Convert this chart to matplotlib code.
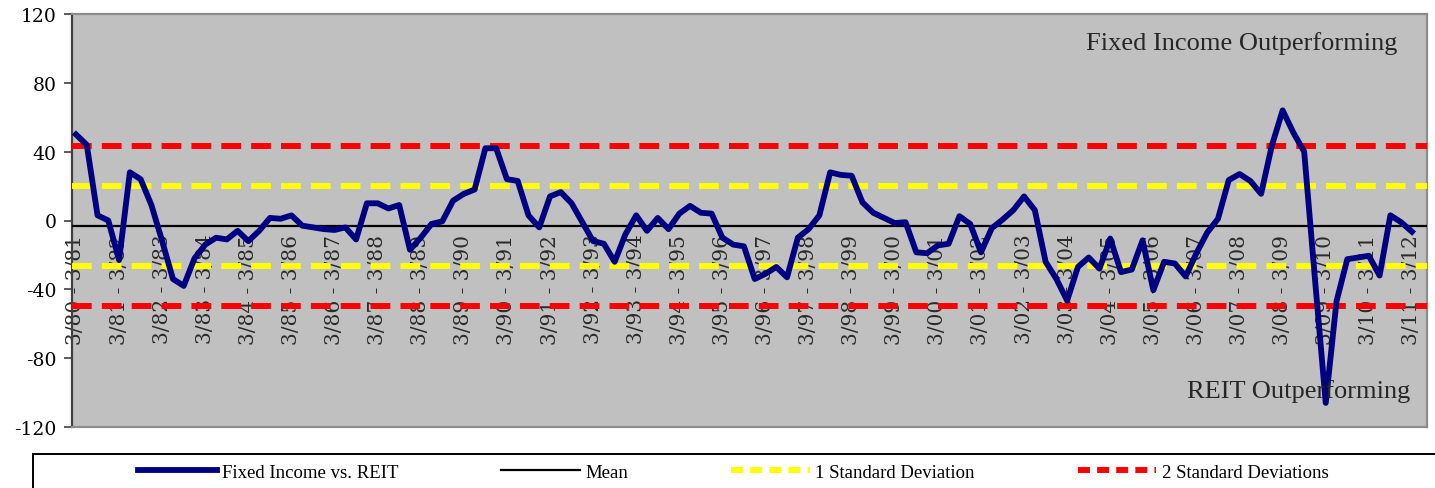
import matplotlib
matplotlib.use("Agg")
import matplotlib.pyplot as plt
from matplotlib.lines import Line2D
from matplotlib.patches import Rectangle

plt.rcParams["axes.unicode_minus"] = False

# rolling spread, quarterly points from 3/81 to 3/12
spread = [50, 44, 3, 0, -23, 28, 24, 9, -12, -34,
          -38, -22, -14, -10, -11, -6, -12, -6, 1.5, 1,
          3, -3, -4, -5, -5.5, -4, -11, 10, 10, 7,
          9, -17, -10, -2, -0.5, 11.5, 15.5, 18, 42, 42,
          24, 23, 3, -4, 14, 16.5, 10, -1, -12, -13.5,
          -24, -8, 3, -6, 1.5, -5, 4, 8.5, 4.5, 4,
          -10, -14, -15, -34, -31, -27, -33, -10, -5, 3,
          28, 26.5, 26, 10.5, 4.5, 1.5, -1.5, -1, -18.5, -19,
          -14.5, -13.5, 2.5, -2, -18.5, -4.5, 0.5, 6, 14, 6,
          -24, -34, -46.5, -27, -21.5, -28, -10.5, -30, -28.5, -11.5,
          -40.5, -24, -25, -32.5, -19, -7, 1, 23.5, 27, 23,
          15.5, 43.5, 64, 51, 40, -34, -106, -47, -22.5, -21.5,
          -20.5, -32, 3, -1, -6.5]

mean_level = -3.1
one_sd = [20.1, -26.3]
two_sd = [43.3, -49.5]

years = list(range(80, 112))
period_labels = ["3/%02d - 3/%02d" % (y % 100, (y + 1) % 100) for y in years]

fig = plt.figure(figsize=(14.35, 4.89), dpi=100)
ax = fig.add_axes([72 / 1435, 1 - 428 / 489, 1355 / 1435, 413 / 489])
ax.set_facecolor("#c0c0c0")

x = list(range(len(spread)))
ax.plot(x, spread, color="#000080", lw=4.2, zorder=5)
ax.axhline(mean_level, color="black", lw=1.6, zorder=3)
for lvl in one_sd:
    ax.axhline(lvl, color="#ffff00", lw=4.3, dashes=(3.3, 1.7), zorder=4)
for lvl in two_sd:
    ax.axhline(lvl, color="#ff0000", lw=4.3, dashes=(3.3, 1.7), zorder=4)

ax.set_xlim(-0.37, 125.4)
ax.set_ylim(-120, 120)
ax.set_yticks(range(-120, 121, 40))
ax.tick_params(axis="y", direction="out", length=6, width=1.2, pad=5,
               labelsize=13.5, colors="#404040", labelcolor="black")
for lab in ax.get_yticklabels():
    lab.set_fontfamily("DejaVu Serif")

# category labels hang below the zero line
ax.spines["bottom"].set_position(("data", 0))
ax.spines["bottom"].set_visible(False)
ax.set_xticks(range(0, len(spread), 4))
ax.set_xticklabels(period_labels, rotation=90, fontfamily="DejaVu Serif",
                   fontsize=14.5, color="#2a2a2a")
ax.tick_params(axis="x", length=0, pad=9.5)

for side in ["top", "right"]:
    ax.spines[side].set_color("#8c8c8c")
    ax.spines[side].set_linewidth(1.6)
ax.spines["left"].set_color("#404040")
ax.spines["left"].set_linewidth(1.6)
ax.plot([0, 1], [0, 0], transform=ax.transAxes, color="#8c8c8c", lw=1.6,
        clip_on=False, zorder=6)

ax.text(0.978, 0.915, "Fixed Income Outperforming", transform=ax.transAxes,
        ha="right", va="baseline", fontsize=19, family="Liberation Serif",
        color="#262626")
ax.text(0.988, 0.0726, "REIT Outperforming", transform=ax.transAxes,
        ha="right", va="baseline", fontsize=19, family="Liberation Serif",
        color="#262626", zorder=7)

# legend strip along the bottom
fig.add_artist(Rectangle((33 / 1435, -0.05), 1.1, 0.05 + 1 - 455 / 489,
                         transform=fig.transFigure, facecolor="white",
                         edgecolor="black", lw=1.4, clip_on=False))
handles = [
    Line2D([], [], color="#000080", lw=4.2),
    Line2D([], [], color="black", lw=1.6),
    Line2D([], [], color="#ffff00", lw=4.3, dashes=(2.0, 1.2)),
    Line2D([], [], color="#ff0000", lw=4.3, dashes=(2.0, 1.2)),
]
names = ["Fixed Income vs. REIT", "Mean", "1 Standard Deviation",
         "2 Standard Deviations"]
fig.legend(handles, names, loc="center left",
           bbox_to_anchor=(138 / 1435, 1 - 473 / 489), ncol=4, frameon=False,
           borderpad=0, borderaxespad=0, handlelength=4.2, handletextpad=0.27,
           columnspacing=5.5, prop={"family": "Liberation Serif", "size": 13.5})

fig.savefig("out.png", dpi=100)
